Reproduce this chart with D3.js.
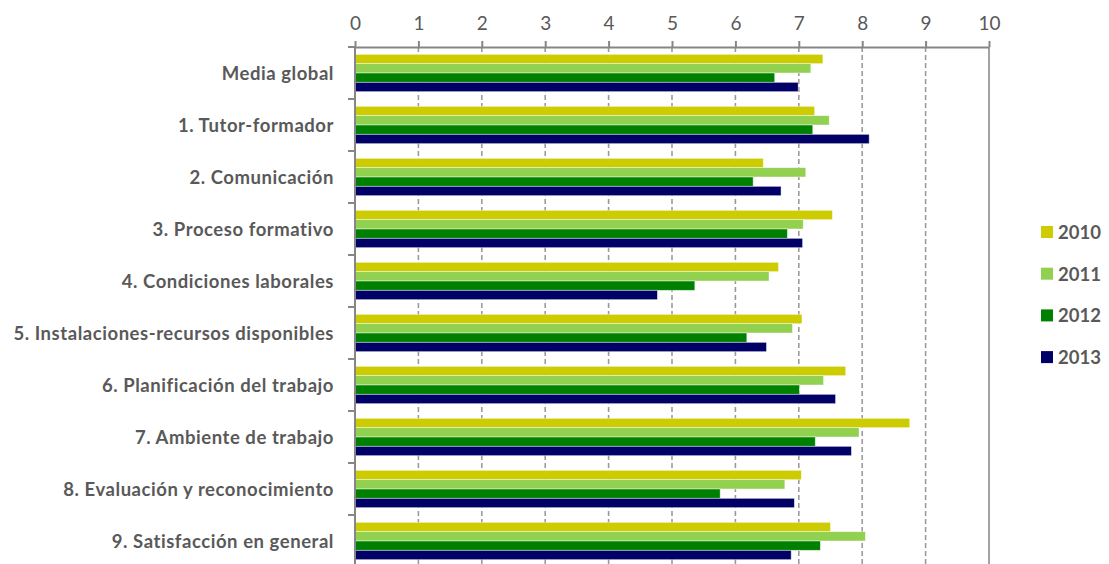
<!DOCTYPE html>
<html>
<head>
<meta charset="utf-8">
<script src="https://cdn.jsdelivr.net/npm/d3@7"></script>
<style>
  html, body { margin: 0; padding: 0; background: #fff; }
  svg { display: block; }
  text { font-family: Lato, "Open Sans", sans-serif; fill: #595959; }
</style>
</head>
<body>
<svg id="chart" width="1109" height="564"></svg>
<script>
// Survey scores per dimension, 2010-2013
const categories = [
  "Media global",
  "1. Tutor-formador",
  "2. Comunicación",
  "3. Proceso formativo",
  "4. Condiciones laborales",
  "5. Instalaciones-recursos disponibles",
  "6. Planificación del trabajo",
  "7. Ambiente de trabajo",
  "8. Evaluación y reconocimiento",
  "9. Satisfacción en general"
];
const years = ["2010", "2011", "2012", "2013"];
const values2010 = [7.38, 7.25, 6.44, 7.53, 6.68, 7.05, 7.74, 8.75, 7.04, 7.50];
const values2011 = [7.19, 7.48, 7.11, 7.07, 6.53, 6.90, 7.39, 7.95, 6.78, 8.05];
const values2012 = [6.62, 7.22, 6.28, 6.82, 5.36, 6.18, 7.01, 7.26, 5.76, 7.34];
const values2013 = [6.99, 8.11, 6.72, 7.06, 4.77, 6.49, 7.58, 7.83, 6.93, 6.88];
const xTicks = [0, 1, 2, 3, 4, 5, 6, 7, 8, 9, 10];
const colors = ["#cccc00", "#92d050", "#008000", "#000066"];

const seriesValues = [values2010, values2011, values2012, values2013];
const rows = categories.map((c, i) => ({
  category: c,
  bars: years.map((y, k) => ({ year: y, value: seriesValues[k][i] }))
}));

const svg = d3.select("#chart");
const plotLeft = 355, plotRight = 989, plotTop = 47, plotBottom = 567;

const x = d3.scaleLinear().domain([0, 10]).range([plotLeft, plotRight]);
const y0 = d3.scaleBand().domain(categories).range([plotTop, plotBottom])
  .paddingInner(0.282).paddingOuter(0.141);
const y1 = d3.scaleBand().domain(years).range([0, y0.bandwidth()]);
const color = d3.scaleOrdinal().domain(years).range(colors);
const step = y0.step();

// vertical gridlines
svg.append("g").selectAll("line")
  .data(xTicks.filter(t => t > 0 && t < 10))
  .join("line")
  .attr("x1", d => x(d)).attr("x2", d => x(d))
  .attr("y1", plotTop).attr("y2", plotBottom)
  .attr("stroke", "#9a9a9a").attr("stroke-width", 1.6)
  .attr("stroke-dasharray", "5,3");

// right border line at 10
svg.append("line")
  .attr("x1", x(10)).attr("x2", x(10))
  .attr("y1", plotTop).attr("y2", plotBottom)
  .attr("stroke", "#8c8c8c").attr("stroke-width", 1.6);

// bars
const groups = svg.append("g").selectAll("g")
  .data(rows)
  .join("g")
  .attr("transform", d => `translate(0,${y0(d.category)})`);

groups.selectAll("rect")
  .data(d => d.bars)
  .join("rect")
  .attr("x", x(0))
  .attr("y", d => y1(d.year))
  .attr("width", d => x(d.value) - x(0))
  .attr("height", y1.bandwidth())
  .attr("fill", d => color(d.year))
  .attr("stroke", "#ffffff")
  .attr("stroke-opacity", 0.55)
  .attr("stroke-width", 0.8);

// top value axis
const xAxis = svg.append("g")
  .attr("transform", `translate(0,${plotTop})`)
  .call(d3.axisTop(x).tickValues(xTicks).tickFormat(d3.format("d"))
    .tickSize(6).tickSizeOuter(0).tickPadding(11));
xAxis.select(".domain").attr("stroke", "#868686").attr("stroke-width", 2);
xAxis.selectAll(".tick line").attr("stroke", "#868686").attr("stroke-width", 2);
xAxis.selectAll(".tick text")
  .style("font-family", "Lato, 'Open Sans', sans-serif")
  .style("font-size", "19px")
  .attr("fill", "#595959");

// category axis with ticks at group boundaries
const boundaries = d3.range(categories.length + 1).map(i => plotTop + i * step);
svg.append("line")
  .attr("x1", plotLeft).attr("x2", plotLeft)
  .attr("y1", plotTop).attr("y2", plotBottom)
  .attr("stroke", "#868686").attr("stroke-width", 2);
svg.append("g").selectAll("line")
  .data(boundaries)
  .join("line")
  .attr("x1", plotLeft - 7).attr("x2", plotLeft)
  .attr("y1", d => d).attr("y2", d => d)
  .attr("stroke", "#868686").attr("stroke-width", 2);

svg.append("g").selectAll("text")
  .data(categories)
  .join("text")
  .attr("x", 334)
  .attr("y", d => y0(d) + y0.bandwidth() / 2)
  .attr("text-anchor", "end")
  .attr("dominant-baseline", "central")
  .style("font-size", "18.5px")
  .style("font-weight", "bold")
  .style("letter-spacing", "0.55px")
  .text(d => d);

// legend
const legend = svg.append("g").selectAll("g")
  .data(years)
  .join("g")
  .attr("transform", (d, i) => `translate(1041,${232 + i * 41.7})`);
legend.append("rect")
  .attr("x", 0).attr("y", -6)
  .attr("width", 12).attr("height", 12)
  .attr("fill", d => color(d));
legend.append("text")
  .attr("x", 17).attr("y", 0)
  .attr("dominant-baseline", "central")
  .style("font-size", "18.5px")
  .style("font-weight", "bold")
  .text(d => d);
</script>
</body>
</html>
